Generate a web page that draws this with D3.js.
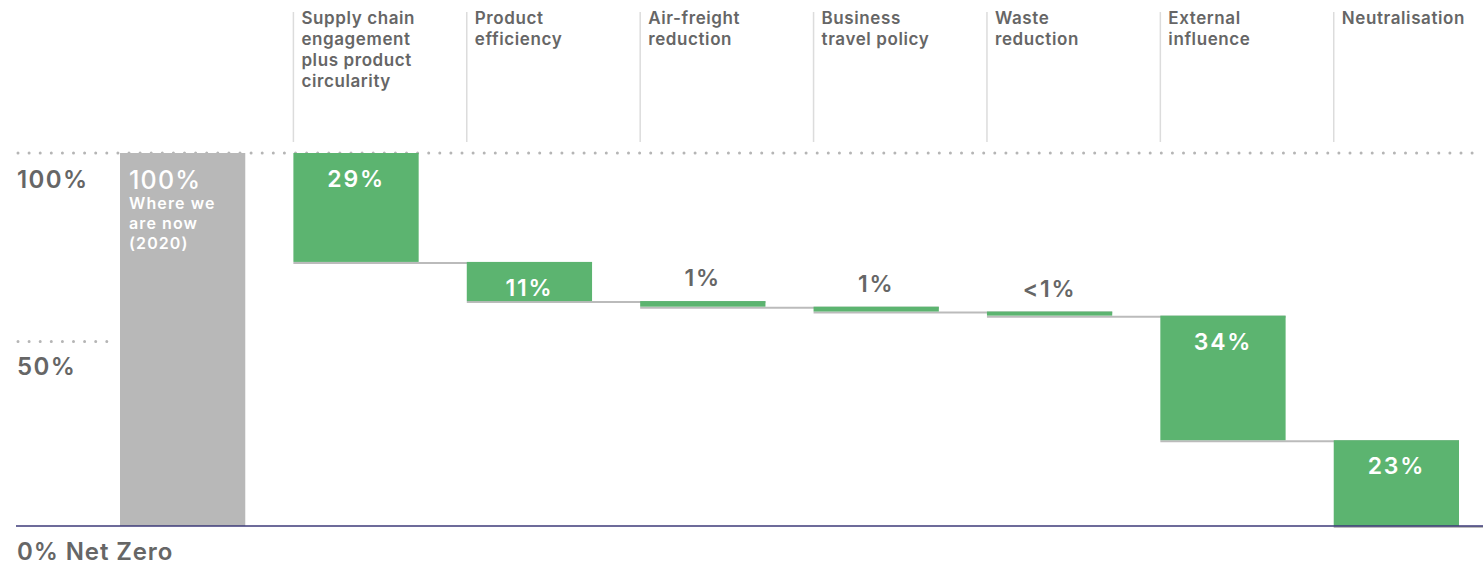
<!DOCTYPE html>
<html>
<head>
<meta charset="utf-8">
<script src="https://cdn.jsdelivr.net/npm/d3@7"></script>
<style>
  body { margin: 0; background: #fff; }
  text { font-family: Inter, "Noto Sans", sans-serif; }
</style>
</head>
<body>
<script>
// Data
const categories = ["now", "supply", "product", "air", "travel", "waste", "external", "neutral"];
const headers = [
    [],
    ["Supply chain", "engagement", "plus product", "circularity"],
    ["Product", "efficiency"],
    ["Air-freight", "reduction"],
    ["Business", "travel policy"],
    ["Waste", "reduction"],
    ["External", "influence"],
    ["Neutralisation"]
];
const startValue = 100;
const reductions = [29.2, 10.5, 1.5, 1.3, 1.1, 33.4, 23];
const valueLabels = ["29%", "11%", "1%", "1%", "<1%", "34%", "23%"];
const yTicks = [100, 50];

const width = 1483;
const height = 566;

const svg = d3.select("body").append("svg")
    .attr("width", width)
    .attr("height", height);

const x = d3.scaleBand()
    .domain(categories)
    .range([120, 1459])
    .paddingInner(0.2775)
    .paddingOuter(0)
    .align(0);

const y = d3.scaleLinear()
    .domain([0, 100])
    .range([526, 153]);

// waterfall steps
let level = startValue;
const steps = reductions.map((v, i) => {
    const top = level;
    level = level - v;
    return { key: categories[i + 1], top: top, bottom: level, value: v, label: valueLabels[i] };
});

// header separators and labels
const head = svg.append("g");
categories.slice(1).forEach((c, i) => {
    head.append("line")
        .attr("x1", x(c)).attr("x2", x(c))
        .attr("y1", 12).attr("y2", 142)
        .attr("stroke", "#dcdcdc")
        .attr("stroke-width", 1.5);
    const t = head.append("text")
        .attr("x", x(c) + 8)
        .attr("y", 24)
        .attr("fill", "#666")
        .attr("font-size", 17)
        .attr("font-weight", 600)
        .attr("letter-spacing", 0.6);
    headers[i + 1].forEach((line, j) => {
        t.append("tspan").attr("x", x(c) + 8).attr("dy", j === 0 ? 0 : 21).text(line);
    });
});

// dotted gridlines
svg.append("line")
    .attr("x1", 18).attr("x2", width)
    .attr("y1", y(100)).attr("y2", y(100))
    .attr("stroke", "#b5b5b5")
    .attr("stroke-width", 3)
    .attr("stroke-linecap", "round")
    .attr("stroke-dasharray", "0 11.1");

svg.append("line")
    .attr("x1", 18).attr("x2", x("now") - 4)
    .attr("y1", y(50) + 2).attr("y2", y(50) + 2)
    .attr("stroke", "#b5b5b5")
    .attr("stroke-width", 3)
    .attr("stroke-linecap", "round")
    .attr("stroke-dasharray", "0 11.1");

// connectors
svg.append("g").selectAll("line")
    .data(steps)
    .enter().append("line")
    .attr("x1", d => x(d.key))
    .attr("x2", (d, i) => i < steps.length - 1 ? x(categories[i + 2]) + x.bandwidth() : width)
    .attr("y1", d => y(d.bottom) + 1)
    .attr("y2", d => y(d.bottom) + 1)
    .attr("stroke", "#bbbbbb")
    .attr("stroke-width", 2);

// starting bar
svg.append("rect")
    .attr("x", x("now"))
    .attr("y", y(startValue))
    .attr("width", x.bandwidth())
    .attr("height", y(0) - y(startValue))
    .attr("fill", "#b8b8b8");

// green bars
svg.append("g").selectAll("rect")
    .data(steps)
    .enter().append("rect")
    .attr("x", d => x(d.key))
    .attr("y", d => y(d.top))
    .attr("width", x.bandwidth())
    .attr("height", d => y(d.bottom) - y(d.top))
    .attr("fill", "#5cb470");

// value labels
svg.append("g").selectAll("text")
    .data(steps)
    .enter().append("text")
    .attr("x", d => x(d.key) + x.bandwidth() / 2)
    .attr("y", d => d.value > 5 ? y(d.top) + 34 : y(d.top) - 15)
    .attr("text-anchor", "middle")
    .attr("font-size", 23)
    .attr("font-weight", 600)
    .attr("letter-spacing", 1.8)
    .attr("fill", d => d.value > 5 ? "#fff" : "#666")
    .text(d => d.label);

// starting bar text
svg.append("text")
    .attr("x", x("now") + 9)
    .attr("y", 189)
    .attr("fill", "#fff")
    .attr("font-size", 25)
    .attr("font-weight", 500)
    .attr("letter-spacing", 1.2)
    .text("100%");

const nowText = svg.append("text")
    .attr("x", x("now") + 9)
    .attr("y", 209)
    .attr("fill", "#fff")
    .attr("font-size", 16)
    .attr("font-weight", 600)
    .attr("letter-spacing", 1.1);
["Where we", "are now", "(2020)"].forEach((line, j) => {
    nowText.append("tspan").attr("x", x("now") + 9).attr("dy", j === 0 ? 0 : 20).text(line);
});

// baseline
svg.append("line")
    .attr("x1", 16).attr("x2", width)
    .attr("y1", y(0)).attr("y2", y(0))
    .attr("stroke", "#3d3a78")
    .attr("stroke-width", 1.5);

// y labels
svg.append("g").selectAll("text")
    .data(yTicks)
    .enter().append("text")
    .attr("x", 17)
    .attr("y", d => y(d) + 35)
    .attr("fill", "#666")
    .attr("font-size", 24)
    .attr("font-weight", 600)
    .attr("letter-spacing", 1.4)
    .text(d => d + "%");

svg.append("text")
    .attr("x", 17)
    .attr("y", 560)
    .attr("fill", "#666")
    .attr("font-size", 24)
    .attr("font-weight", 600)
    .attr("letter-spacing", 0.9)
    .text("0% Net Zero");
</script>
</body>
</html>
